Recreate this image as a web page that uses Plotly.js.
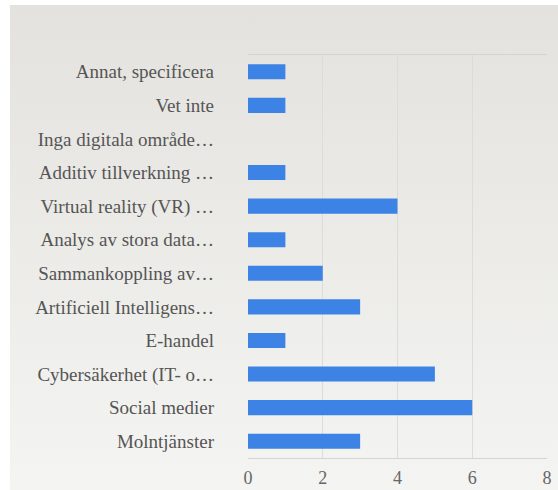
<!DOCTYPE html>
<html>
<head>
<meta charset="utf-8">
<script src="https://cdn.plot.ly/plotly-3.0.1.min.js"></script>
<style>
html,body{margin:0;padding:0;background:#ffffff;}
#wrap{position:relative;width:558px;height:490px;overflow:hidden;}
#card{position:absolute;left:10px;top:5px;width:548px;height:485px;background:linear-gradient(#e3e2de,#f4f4f2);}
#chart{position:absolute;left:0;top:0;width:558px;height:490px;}
</style>
</head>
<body>
<div id="wrap"><div id="card"></div><div id="chart"></div></div>
<script>
const categories = [
  "Annat, specificera",
  "Vet inte",
  "Inga digitala område…",
  "Additiv tillverkning …",
  "Virtual reality (VR) …",
  "Analys av stora data…",
  "Sammankoppling av…",
  "Artificiell Intelligens…",
  "E-handel",
  "Cybersäkerhet (IT- o…",
  "Social medier",
  "Molntjänster"
];
const values = [1, 1, 0, 1, 4, 1, 2, 3, 1, 5, 6, 3];
const xTicks = [0, 2, 4, 6, 8];

const serif = 'Liberation Serif';

function build() {
  const data = [{
    type: 'bar',
    orientation: 'h',
    y: categories,
    x: values,
    width: 0.45,
    marker: {color: '#3d83e6'},
    hoverinfo: 'x+y'
  }];
  const layout = {
    width: 558,
    height: 490,
    margin: {l: 248, r: 11, t: 55, b: 32},
    paper_bgcolor: 'rgba(0,0,0,0)',
    plot_bgcolor: 'rgba(0,0,0,0)',
    font: {family: serif, color: '#5a5a5a', size: 19},
    showlegend: false,
    xaxis: {
      range: [0, 8],
      tickvals: xTicks,
      ticktext: xTicks.map(String),
      showgrid: true,
      gridcolor: '#dcdcd8',
      zeroline: false,
      showline: true,
      mirror: true,
      linecolor: '#d4d4d0',
      ticks: '',
      ticklabelstandoff: 3,
      tickfont: {family: serif, size: 18, color: '#666666'},
      fixedrange: true
    },
    yaxis: {
      type: 'category',
      autorange: 'reversed',
      showgrid: false,
      zeroline: false,
      showline: false,
      ticks: '',
      ticklabelstandoff: 33,
      tickfont: {family: serif, size: 19, color: '#555555'},
      fixedrange: true
    }
  };
  Plotly.purge('chart');
  Plotly.newPlot('chart', data, layout, {displayModeBar: false});
}

build();
if (document.fonts && document.fonts.load) {
  Promise.all([
    document.fonts.load('19px "Liberation Serif"', 'Annat åäö…0123456789'),
    document.fonts.load('18px "Liberation Serif"', '02468')
  ]).then(build, build);
}
</script>
</body>
</html>
